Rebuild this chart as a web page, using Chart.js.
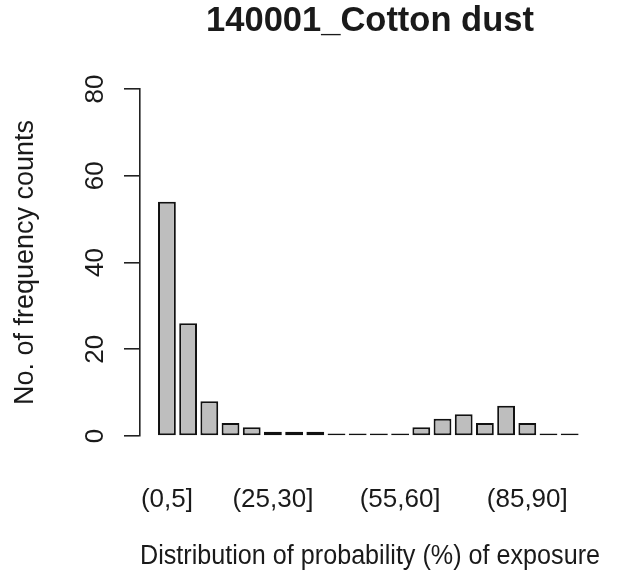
<!DOCTYPE html>
<html>
<head>
<meta charset="utf-8">
<script src="https://cdn.jsdelivr.net/npm/chart.js@4/dist/chart.umd.min.js"></script>
<style>
  body { margin: 0; background: #fff; }
  #wrap { width: 623px; height: 579px; }
</style>
</head>
<body>
<div id="wrap"><canvas id="hist"></canvas></div>
<script>
var bins = ['(0,5]', '(5,10]', '(10,15]', '(15,20]', '(20,25]', '(25,30]', '(30,35]', '(35,40]', '(40,45]', '(45,50]',
            '(50,55]', '(55,60]', '(60,65]', '(65,70]', '(70,75]', '(75,80]', '(80,85]', '(85,90]', '(90,95]', '(95,100]'];
var counts = [54, 26, 8, 3, 2, 1, 1, 1, 0, 0, 0, 0, 2, 4, 5, 3, 7, 3, 0, 0];
var shownBins = [0, 5, 11, 17];
var yTicks = [0, 20, 40, 60, 80];

var font = "'Liberation Sans', Arial, sans-serif";
var ink = '#1a1a1a';

var ctx = document.getElementById('hist').getContext('2d');
var myChart = new Chart(ctx, {
    type: 'bar',
    data: {
        datasets: [{
            label: 'counts',
            xAxisID: 'x',
            yAxisID: 'y',
            data: counts.map(function (v, i) { return { x: i, y: v }; }),
            backgroundColor: '#bebebe',
            borderColor: '#111',
            borderWidth: 2,
            borderSkipped: false,
            minBarLength: 2.5,
            categoryPercentage: 1,
            barPercentage: 0.84
        }]
    },
    options: {
        responsive: true,
        maintainAspectRatio: false,
        animation: false,
        layout: { padding: { left: 0, right: 23, top: 0, bottom: 0 } },
        plugins: {
            legend: { display: false },
            tooltip: { enabled: false }
        },
        scales: {
            // top axis only carries the main title, centred over the plot like R does
            top: {
                type: 'linear',
                position: 'top',
                min: 0,
                max: 1,
                grid: { display: false },
                border: { display: false },
                ticks: { display: false },
                afterFit: function (s) { s.height = 89; },
                title: {
                    display: true,
                    text: '140001_Cotton dust',
                    color: ink,
                    font: { family: font, size: 34.5, weight: 'bold', lineHeight: 1.2 },
                    padding: { top: 1, bottom: 4 }
                }
            },
            x: {
                type: 'linear',
                offset: false,
                min: -1.27,
                max: 20.43,
                grid: { display: false },
                border: { display: false },
                afterBuildTicks: function (s) {
                    s.ticks = shownBins.map(function (v) { return { value: v }; });
                },
                afterFit: function (s) { s.height = 143; },
                ticks: {
                    color: ink,
                    padding: 40,
                    maxRotation: 0,
                    autoSkip: false,
                    font: { family: font, size: 26 },
                    callback: function (v) { return bins[v]; }
                },
                title: {
                    display: true,
                    text: 'Distribution of probability (%) of exposure',
                    color: ink,
                    font: { family: font, size: 27 },
                    padding: { top: 4, bottom: 6 }
                }
            },
            y: {
                min: 0,
                max: 80,
                afterBuildTicks: function (s) {
                    s.ticks = yTicks.map(function (v) { return { value: v }; });
                },
                afterFit: function (s) { s.width = 140; },
                grid: {
                    drawOnChartArea: false,
                    drawTicks: true,
                    tickLength: 16,
                    color: '#222',
                    lineWidth: 1.6
                },
                border: { display: true, color: '#222', width: 1.6 },
                ticks: {
                    color: ink,
                    padding: 14,
                    minRotation: 90,
                    maxRotation: 90,
                    crossAlign: 'center',
                    font: { family: font, size: 26 }
                },
                title: {
                    display: true,
                    text: 'No. of frequency counts',
                    color: ink,
                    font: { family: font, size: 27 },
                    padding: { top: 9, bottom: 4 }
                }
            }
        }
    }
});
</script>
</body>
</html>
